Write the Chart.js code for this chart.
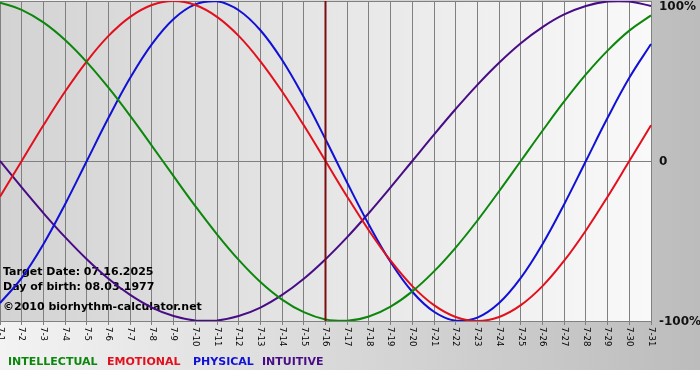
<!DOCTYPE html>
<html><head><meta charset="utf-8">
<script src="https://cdn.jsdelivr.net/npm/chart.js@4/dist/chart.umd.min.js"></script>
<style>html,body{margin:0;padding:0;background:#fff;overflow:hidden}canvas{display:block}</style>
</head><body>
<canvas id="c" width="700" height="380"></canvas>
<script>
// ---- data ----
const dates = ['7-1','7-2','7-3','7-4','7-5','7-6','7-7','7-8','7-9','7-10','7-11','7-12','7-13','7-14','7-15','7-16',
  '7-17','7-18','7-19','7-20','7-21','7-22','7-23','7-24','7-25','7-26','7-27','7-28','7-29','7-30','7-31'];
const intellectual = [99.0, 94.5, 86.6, 75.6, 61.8, 45.8, 28.2, 9.5, -9.5, -28.2, -45.8, -61.8, -75.6, -86.6, -94.5, -99.0,
  -99.9, -97.2, -91.0, -81.5, -69.0, -54.1, -37.2, -18.9, 0, 18.9, 37.2, 54.1, 69.0, 81.5, 91.0];
const emotional = [-22.3, 0, 22.3, 43.4, 62.3, 78.2, 90.1, 97.5, 100, 97.5, 90.1, 78.2, 62.3, 43.4, 22.3, 0,
  -22.3, -43.4, -62.3, -78.2, -90.1, -97.5, -100, -97.5, -90.1, -78.2, -62.3, -43.4, -22.3, 0, 22.3];
const physical = [-88.8, -73.1, -52.0, -27.0, 0, 27.0, 52.0, 73.1, 88.8, 97.9, 99.8, 94.2, 81.7, 63.1, 39.8, 13.6,
  -13.6, -39.8, -63.1, -81.7, -94.2, -99.8, -97.9, -88.8, -73.1, -52.0, -27.0, 0, 27.0, 52.0, 73.1];
const intuitive = [0, -16.5, -32.5, -47.6, -61.4, -73.6, -83.7, -91.6, -96.9, -99.7, -99.7, -96.9, -91.6, -83.7, -73.6, -61.4,
  -47.6, -32.5, -16.5, 0, 16.5, 32.5, 47.6, 61.4, 73.6, 83.7, 91.6, 96.9, 99.7, 99.7, 96.9];
const seriesNames = ['INTELLECTUAL', 'EMOTIONAL', 'PHYSICAL', 'INTUITIVE'];
const yTickValues = [100, 0, -100];
const yTickLabels = ['100%', '0', '-100%'];
const markedDate = '7-16';
const infoLines = ['Target Date: 07.16.2025', 'Day of birth: 08.03.1977', '\u00A92010 biorhythm-calculator.net'];

// ---- styles ----
const colors = ['#0c870c', '#e2101c', '#1010d6', '#480c86'];
const FONT = '"DejaVu Sans", Verdana, sans-serif';

const decor = {
  id: 'decor',
  beforeDraw(chart) {
    const ctx = chart.ctx, a = chart.chartArea;
    ctx.save();
    ctx.fillStyle = '#ffffff';
    ctx.fillRect(0, 0, chart.width, chart.height);
    let g = ctx.createLinearGradient(0, 0, chart.width, 0);
    g.addColorStop(0, '#f3f3f3');
    g.addColorStop(1, '#bcbcbc');
    ctx.fillStyle = g;
    ctx.fillRect(0, 0, chart.width, 370);
    g = ctx.createLinearGradient(a.left, 0, a.right, 0);
    g.addColorStop(0, '#d3d3d3');
    g.addColorStop(1, '#f9f9f9');
    ctx.fillStyle = g;
    ctx.fillRect(a.left, a.top, a.right - a.left, a.bottom - a.top);
    ctx.restore();
  },
  beforeDatasetsDraw(chart) {
    const ctx = chart.ctx;
    ctx.save();
    ctx.font = 'bold 11px ' + FONT;
    ctx.fillStyle = '#000';
    ctx.textAlign = 'left';
    ctx.textBaseline = 'middle';
    const ys = [272, 287, 307];
    infoLines.forEach((t, i) => ctx.fillText(t, 3, ys[i]));
    ctx.restore();
  },
  afterDatasetsDraw(chart) {
    const ctx = chart.ctx, a = chart.chartArea;
    const xs = chart.scales.x, ysc = chart.scales.y;
    ctx.save();
    // marker line
    const mx = xs.getPixelForValue(dates.indexOf(markedDate));
    ctx.strokeStyle = '#7c0e0e';
    ctx.lineWidth = 2;
    ctx.beginPath();
    ctx.moveTo(mx, a.top);
    ctx.lineTo(mx, a.bottom);
    ctx.stroke();
    // x labels rotated clockwise
    ctx.font = '8.5px ' + FONT;
    ctx.fillStyle = '#000';
    ctx.textAlign = 'left';
    ctx.textBaseline = 'middle';
    dates.forEach((d, i) => {
      const x = xs.getPixelForValue(i);
      ctx.save();
      ctx.translate(x, a.bottom + 6);
      ctx.rotate(Math.PI / 2);
      ctx.fillText(d, 0, 0);
      ctx.restore();
    });
    // y labels
    ctx.font = 'bold 12px ' + FONT;
    ctx.fillStyle = '#111';
    yTickValues.forEach((v, i) => {
      let y = ysc.getPixelForValue(v);
      if (y < a.top + 6) y = a.top + 6; else y = y + 1;
      ctx.fillText(yTickLabels[i], a.right + 8, y);
    });
    // legend
    ctx.font = 'bold 11px ' + FONT;
    const lx = [8, 107, 193, 262];
    chart.data.datasets.forEach((ds, i) => {
      ctx.fillStyle = ds.borderColor;
      ctx.fillText(ds.label, lx[i], 362);
    });
    ctx.restore();
  }
};

const mk = (i, data) => ({
  label: seriesNames[i], data, borderColor: colors[i], backgroundColor: colors[i],
  borderWidth: 2, pointRadius: 0, tension: 0.4, fill: false
});

new Chart(document.getElementById('c'), {
  type: 'line',
  data: {
    labels: dates,
    datasets: [mk(0, intellectual), mk(1, emotional), mk(2, physical), mk(3, intuitive)]
  },
  options: {
    responsive: false,
    animation: false,
    events: [],
    layout: { autoPadding: false, padding: { left: 0, right: 49, top: 1, bottom: 55 } },
    plugins: { legend: { display: false }, tooltip: { enabled: false }, title: { display: false } },
    scales: {
      x: {
        type: 'category', offset: false,
        ticks: { display: false },
        grid: { color: '#808080', lineWidth: 1, drawTicks: true, tickLength: 4, tickColor: '#808080' },
        border: { display: true, color: '#808080', width: 1 }
      },
      y: {
        position: 'right', min: -100, max: 100,
        ticks: { display: false, stepSize: 100 },
        grid: { color: '#808080', lineWidth: 1, drawTicks: false },
        border: { display: true, color: '#808080', width: 1 }
      }
    }
  },
  plugins: [decor]
});
</script>
</body></html>
